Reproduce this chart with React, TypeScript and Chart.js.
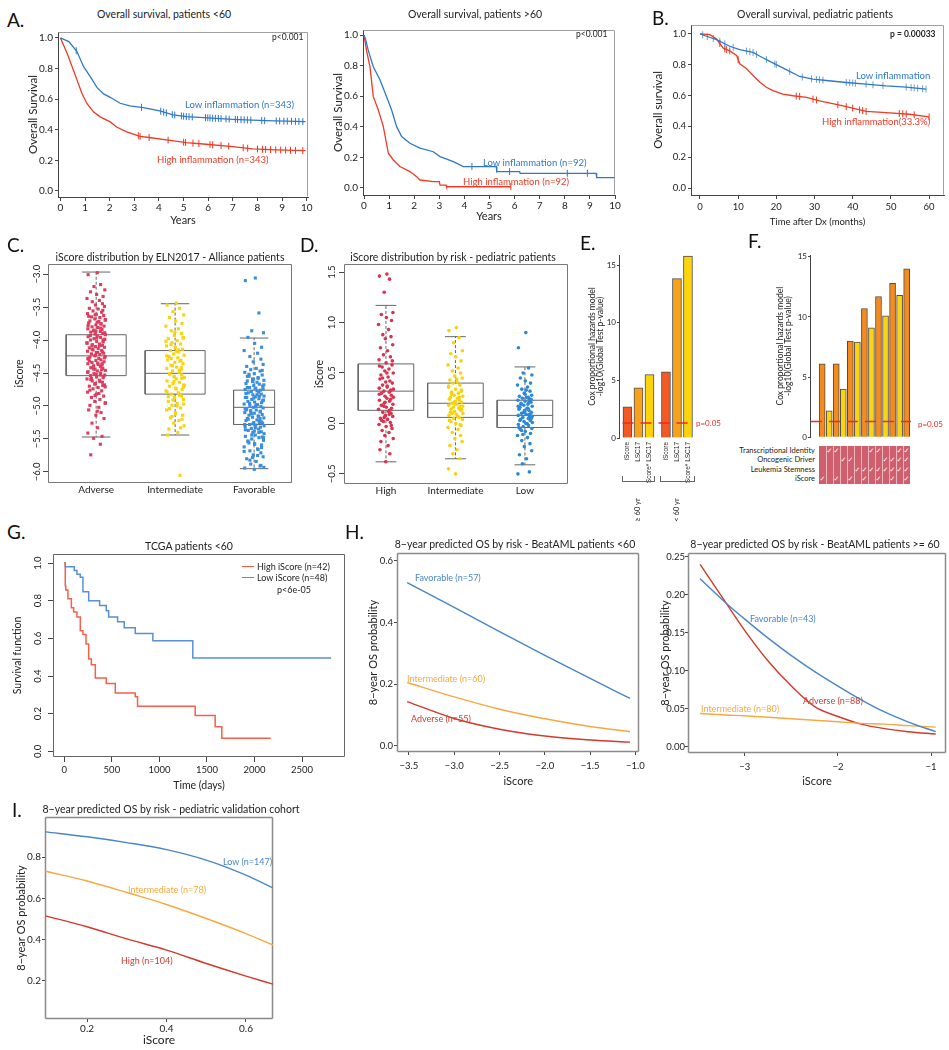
import React, { useEffect, useRef } from 'react';
import { Chart, registerables } from 'chart.js';

Chart.register(...registerables);
const FONT = "Lato, 'Open Sans', sans-serif";
Chart.defaults.font.family = FONT;
Chart.defaults.color = '#222';

// ---------------- DATA ----------------
// Panel A (left): patients <60
const A1_LOW_T = [0, 0.34, 0.67, 0.94, 1.21, 1.48, 1.75, 2.02, 2.42, 2.82, 3.36, 4.03, 4.57, 5.11, 5.64, 6.99, 8.33, 9.95];
const A1_LOW_S = [1.0, 0.976, 0.911, 0.812, 0.747, 0.677, 0.634, 0.612, 0.573, 0.556, 0.545, 0.523, 0.497, 0.486, 0.481, 0.468, 0.459, 0.453];
const A1_HIGH_T = [0, 0.27, 0.47, 0.67, 0.87, 1.07, 1.34, 1.61, 2.02, 2.28, 2.69, 3.23, 3.6, 4.3, 5.11, 5.91, 6.99, 7.8, 8.74, 9.95];
const A1_HIGH_S = [1.0, 0.9, 0.813, 0.726, 0.638, 0.572, 0.517, 0.484, 0.451, 0.418, 0.386, 0.357, 0.349, 0.333, 0.316, 0.305, 0.29, 0.275, 0.268, 0.263];
const A1_LOW_CENS = [0.64, 3.29, 4.07, 4.19, 4.3, 4.54, 4.64, 4.91, 5.0, 5.11, 5.22, 5.35, 5.89, 5.98, 6.07, 6.18, 6.29, 6.41, 6.52, 6.72, 6.85, 7.1, 7.19, 7.33, 7.46, 7.59, 7.73, 8.17, 8.29, 8.76, 8.9, 9.07, 9.21, 9.38, 9.54, 9.68, 9.84];
const A1_HIGH_CENS = [3.16, 3.23, 3.6, 4.37, 5.0, 5.08, 5.38, 5.62, 6.07, 6.18, 6.52, 6.83, 7.42, 7.6, 8.0, 8.2, 8.33, 8.53, 8.74, 8.94, 9.14, 9.34, 9.54, 9.84];
// Panel A (right): patients >60
const A2_LOW_T = [0, 0.05, 0.17, 0.37, 0.64, 0.9, 1.1, 1.3, 1.5, 1.83, 2.23, 2.76, 3.03, 3.56, 3.96, 5.27, 5.29, 6.2, 6.22, 9.25, 9.27, 9.98];
const A2_LOW_S = [1, 0.98, 0.9, 0.793, 0.706, 0.597, 0.51, 0.401, 0.336, 0.292, 0.26, 0.237, 0.205, 0.172, 0.14, 0.14, 0.107, 0.107, 0.096, 0.096, 0.067, 0.067];
const A2_HIGH_T = [0, 0.1, 0.24, 0.37, 0.57, 0.77, 0.97, 1.17, 1.43, 1.83, 2.1, 2.23, 2.76, 3.0, 3.03, 3.27, 3.29, 5.85];
const A2_HIGH_S = [1, 0.9, 0.79, 0.597, 0.51, 0.401, 0.227, 0.183, 0.14, 0.107, 0.074, 0.052, 0.041, 0.041, 0.019, 0.019, 0.008, 0.008];
const A2_LOW_CENS = [4.3, 5.28, 5.8, 8.1, 8.9];
const A2_HIGH_CENS = [5.85];
const YEAR_TICKS = [0, 1, 2, 3, 4, 5, 6, 7, 8, 9, 10];
const SURV_TICKS = [0, 0.2, 0.4, 0.6, 0.8, 1.0];
// Panel B: pediatric
const B_LOW_T = [0, 1.74, 4.35, 7.8, 10.4, 13.9, 15.7, 18.3, 20.9, 22.6, 26.1, 29.6, 33.1, 38.3, 43.5, 48.7, 54, 59.2];
const B_LOW_S = [1, 0.985, 0.963, 0.92, 0.898, 0.88, 0.855, 0.822, 0.79, 0.768, 0.724, 0.707, 0.698, 0.685, 0.674, 0.663, 0.655, 0.642];
const B_HIGH_T = [0, 2.6, 4.35, 6.1, 7.8, 9.6, 10.4, 12.2, 13.9, 15.7, 17.4, 19.1, 21.7, 24.4, 27.9, 31.3, 36.6, 40, 43.5, 48.7, 54.8, 60];
const B_HIGH_S = [1, 0.995, 0.967, 0.908, 0.89, 0.86, 0.806, 0.774, 0.73, 0.687, 0.654, 0.632, 0.61, 0.599, 0.588, 0.566, 0.538, 0.518, 0.497, 0.49, 0.479, 0.462];
const B_LOW_CENS = [0.7, 1.9, 3.5, 5.2, 6.5, 8.7, 12.2, 13.05, 13.9, 14.8, 17.4, 19.6, 20.0, 23.5, 26.8, 29.2, 30.5, 31.3, 32.2, 38.3, 39.2, 40, 40.7, 43.5, 45.3, 47.9, 54, 55.3, 56.1, 57, 58.3, 59.2];
const B_HIGH_CENS = [5.2, 6.5, 6.9, 7.8, 10, 25.2, 26.1, 29.6, 30.5, 36.1, 38.3, 40, 41.8, 42.6, 43.5, 52.2, 53.1, 54, 56.1, 60];
const MONTH_TICKS = [0, 10, 20, 30, 40, 50, 60];
// Panel C: iScore by ELN2017 (stats: low whisker, q1, median, q3, high whisker)
const C_CATS = ['Adverse', 'Intermediate', 'Favorable'];
const C_STATS = [
  [-5.47, -4.54, -4.24, -3.92, -2.97],
  [-5.44, -4.82, -4.505, -4.16, -3.45],
  [-5.95, -5.28, -5.02, -4.76, -3.97],
];
const C_TICKS = [-6, -5.5, -5, -4.5, -4, -3.5, -3];
const C_ADV = [-2.98, -3.01, -3.16, -3.19, -3.24, -3.27, -3.31, -3.34, -3.37, -3.4, -3.42, -3.45, -3.47, -3.49, -3.52, -3.53, -3.56, -3.58, -3.6, -3.61, -3.63, -3.65, -3.66, -3.68, -3.7, -3.71, -3.72, -3.74, -3.76, -3.77, -3.79, -3.8, -3.81, -3.83, -3.84, -3.86, -3.87, -3.88, -3.9, -3.91, -3.92, -3.94, -3.95, -3.96, -3.98, -3.99, -4.0, -4.02, -4.03, -4.04, -4.06, -4.07, -4.08, -4.1, -4.11, -4.12, -4.13, -4.15, -4.16, -4.17, -4.19, -4.2, -4.21, -4.22, -4.24, -4.25, -4.26, -4.28, -4.29, -4.3, -4.31, -4.33, -4.34, -4.35, -4.36, -4.38, -4.39, -4.4, -4.42, -4.43, -4.44, -4.46, -4.47, -4.48, -4.5, -4.51, -4.53, -4.54, -4.56, -4.57, -4.59, -4.61, -4.62, -4.64, -4.66, -4.68, -4.7, -4.72, -4.74, -4.77, -4.79, -4.82, -4.85, -4.87, -4.9, -4.93, -4.96, -4.99, -5.02, -5.06, -5.1, -5.14, -5.19, -5.26, -5.33, -5.41, -5.46, -5.49, -5.58, -5.74,
  -3.55, -3.62, -3.69, -3.73, -3.78, -3.82, -3.85, -3.89, -3.93, -3.97, -4.01, -4.05, -4.09, -4.14, -4.18, -4.23, -4.27, -4.32, -4.37, -4.41, -4.45, -4.49, -4.52, -4.55, -4.58, -4.63, -4.67, -4.71, -4.76, -4.81, -3.64, -3.75, -3.87, -3.99, -4.09, -4.19, -4.28, -4.36, -4.44, -4.53, -4.6, -4.69, -4.84, -4.95, -5.08];
const C_INT = [-3.44, -3.47, -3.52, -3.57, -3.62, -3.66, -3.71, -3.75, -3.79, -3.83, -3.86, -3.9, -3.93, -3.96, -3.98, -4.01, -4.04, -4.06, -4.09, -4.11, -4.14, -4.16, -4.18, -4.21, -4.23, -4.25, -4.27, -4.3, -4.32, -4.34, -4.36, -4.38, -4.41, -4.43, -4.45, -4.47, -4.49, -4.51, -4.53, -4.55, -4.57, -4.59, -4.62, -4.64, -4.66, -4.68, -4.7, -4.73, -4.75, -4.77, -4.8, -4.82, -4.85, -4.87, -4.9, -4.93, -4.96, -4.99, -5.03, -5.06, -5.1, -5.14, -5.18, -5.22, -5.26, -5.3, -5.35, -5.4, -5.44, -6.05,
  -3.88, -3.97, -4.07, -4.17, -4.24, -4.31, -4.39, -4.46, -4.52, -4.58, -4.63, -4.69, -4.74, -4.79, -4.84, -4.91, -4.97, -5.04, -5.12, -5.2, -4.02, -4.15, -4.28, -4.42, -4.56, -4.71, -4.86, -5.0, -5.16, -5.33];
const C_FAV = [-3.06, -3.1, -3.59, -3.86, -3.89, -3.96, -4.05, -4.11, -4.16, -4.2, -4.25, -4.29, -4.33, -4.37, -4.4, -4.43, -4.45, -4.47, -4.49, -4.51, -4.53, -4.55, -4.57, -4.59, -4.61, -4.62, -4.64, -4.66, -4.67, -4.69, -4.7, -4.72, -4.73, -4.75, -4.76, -4.78, -4.79, -4.8, -4.82, -4.83, -4.85, -4.86, -4.87, -4.89, -4.9, -4.91, -4.93, -4.94, -4.95, -4.97, -4.98, -4.99, -5.01, -5.02, -5.03, -5.05, -5.06, -5.07, -5.09, -5.1, -5.11, -5.13, -5.14, -5.15, -5.17, -5.18, -5.19, -5.21, -5.22, -5.23, -5.25, -5.26, -5.28, -5.29, -5.31, -5.32, -5.34, -5.35, -5.37, -5.39, -5.4, -5.42, -5.44, -5.46, -5.48, -5.5, -5.52, -5.54, -5.57, -5.59, -5.62, -5.65, -5.68, -5.71, -5.74, -5.77, -5.8, -5.84, -5.88, -5.91, -5.94, -5.96,
  -4.46, -4.52, -4.58, -4.63, -4.68, -4.72, -4.77, -4.81, -4.85, -4.88, -4.92, -4.96, -5.0, -5.04, -5.08, -5.12, -5.16, -5.2, -5.24, -5.27, -5.3, -5.33, -5.36, -5.4, -5.44, -5.48, -5.53, -5.58, -5.63, -5.69, -5.75, -5.82, -5.9, -4.6, -4.74, -4.87, -4.98, -5.09, -5.19, -5.28, -5.38, -5.47, -5.56, -5.66, -5.78, -5.93, -4.55, -4.83, -5.06, -5.25];
// Panel D: iScore by risk, pediatric
const D_CATS = ['High', 'Intermediate', 'Low'];
const D_STATS = [
  [-0.38, 0.13, 0.32, 0.59, 1.17],
  [-0.35, 0.06, 0.2, 0.4, 0.86],
  [-0.41, -0.04, 0.08, 0.23, 0.56],
];
const D_TICKS = [-0.5, 0, 0.5, 1.0, 1.5];
const D_HIGH = [1.48, 1.46, 1.43, 1.3, 1.1, 1.08, 1.05, 1.02, 0.98, 0.93, 0.88, 0.86, 0.84, 0.78, 0.75, 0.72, 0.68, 0.66, 0.63, 0.6, 0.58, 0.56, 0.54, 0.52, 0.5, 0.48, 0.46, 0.44, 0.42, 0.41, 0.4, 0.38, 0.36, 0.35, 0.33, 0.32, 0.31, 0.3, 0.28, 0.27, 0.26, 0.25, 0.23, 0.22, 0.2, 0.19, 0.18, 0.16, 0.15, 0.14, 0.12, 0.11, 0.1, 0.08, 0.07, 0.05, 0.04, 0.02, 0.01, -0.01, -0.03, -0.05, -0.07, -0.09, -0.12, -0.15, -0.18, -0.22, -0.26, -0.3, -0.38,
  0.62, 0.45, 0.37, 0.29, 0.24, 0.17, 0.09, 0.03, -0.02, 0.21, 0.34, 0.5, 0.57, 0.13, 0.06];
const D_INT = [0.95, 0.92, 0.85, 0.8, 0.72, 0.69, 0.66, 0.62, 0.58, 0.55, 0.52, 0.5, 0.47, 0.45, 0.43, 0.41, 0.4, 0.38, 0.36, 0.34, 0.32, 0.31, 0.3, 0.28, 0.27, 0.26, 0.25, 0.24, 0.23, 0.22, 0.21, 0.2, 0.19, 0.18, 0.17, 0.16, 0.15, 0.14, 0.13, 0.12, 0.1, 0.09, 0.08, 0.06, 0.05, 0.04, 0.02, 0.0, -0.02, -0.04, -0.06, -0.09, -0.12, -0.15, -0.18, -0.22, -0.26, -0.3, -0.35, -0.45, -0.5,
  0.33, 0.29, 0.25, 0.21, 0.17, 0.11, 0.07, 0.03, 0.26, 0.19, 0.14, 0.1, 0.44, 0.37, -0.01];
const D_LOW = [0.9, 0.75, 0.55, 0.5, 0.48, 0.45, 0.42, 0.4, 0.38, 0.36, 0.34, 0.32, 0.3, 0.28, 0.27, 0.26, 0.25, 0.24, 0.23, 0.22, 0.21, 0.2, 0.19, 0.18, 0.17, 0.16, 0.15, 0.14, 0.13, 0.12, 0.11, 0.1, 0.09, 0.08, 0.07, 0.06, 0.05, 0.04, 0.03, 0.02, 0.01, 0.0, -0.01, -0.02, -0.03, -0.05, -0.06, -0.08, -0.1, -0.12, -0.14, -0.17, -0.2, -0.23, -0.27, -0.31, -0.35, -0.4, -0.48, -0.5,
  0.29, 0.24, 0.19, 0.15, 0.11, 0.07, 0.03, 0.0, -0.04, 0.21, 0.13, 0.05, -0.07, 0.33, 0.17, 0.09, -0.11, 0.26];
// Panel E: Cox model -log10 p
const E_LABELS = ['iScore', 'LSC17', 'iScore* LSC17', 'iScore', 'LSC17', 'iScore* LSC17'];
const E_VALUES = [2.7, 4.35, 5.5, 5.75, 13.85, 15.8];
const E_COLORS = ['#f15a24', '#f7a21b', '#fdd40b', '#f15a24', '#f7a21b', '#fdd40b'];
const E_GROUPS = ['≥ 60 yr', '< 60 yr'];
const P05 = 1.301;
const EF_TICKS = [0, 5, 10, 15];
// Panel F
const F_VALUES = [6.1, 2.2, 6.1, 4.0, 8.0, 7.9, 10.7, 9.1, 11.7, 10.1, 12.8, 11.8, 14.0];
const F_COLORS = F_VALUES.map((_, i) => (i % 2 === 0 ? '#f48b1f' : '#fcd30c'));
const F_ROW_NAMES = ['Transcriptional Identity', 'Oncogenic Driver', 'Leukemia Stemness', 'iScore'];
const F_CHECKS = [
  [0, 1, 1, 0, 0, 0, 0, 1, 1, 0, 0, 1, 1],
  [0, 0, 0, 1, 1, 0, 0, 0, 0, 1, 1, 1, 1],
  [0, 0, 0, 0, 0, 1, 1, 1, 1, 1, 1, 1, 1],
  [1, 0, 1, 0, 1, 0, 1, 0, 1, 0, 1, 0, 1],
];
// Panel G: TCGA
const G_HIGH_T = [0, 10, 15, 38, 74, 98, 133, 168, 196, 228, 256, 284, 326, 441, 536, 746, 770, 1376, 1586, 1656, 2170];
const G_HIGH_S = [1, 0.88, 0.857, 0.81, 0.762, 0.74, 0.714, 0.64, 0.62, 0.57, 0.49, 0.46, 0.39, 0.36, 0.31, 0.29, 0.24, 0.19, 0.13, 0.07, 0.07];
const G_LOW_T = [0, 10, 105, 133, 168, 196, 256, 371, 441, 466, 560, 630, 746, 931, 1351, 2805];
const G_LOW_S = [1, 0.98, 0.96, 0.94, 0.924, 0.847, 0.8, 0.775, 0.746, 0.714, 0.688, 0.656, 0.626, 0.587, 0.496, 0.496];
const DAY_TICKS = [0, 500, 1000, 1500, 2000, 2500];
// Panel H: BeatAML predicted OS
const H1_X = [-3.52, -3.0, -2.5, -2.0, -1.5, -1.06];
const H1_FAV = [0.53, 0.449, 0.37, 0.293, 0.218, 0.153];
const H1_INT = [0.205, 0.158, 0.118, 0.087, 0.062, 0.045];
const H1_ADV = [0.143, 0.088, 0.053, 0.031, 0.018, 0.011];
const H1_XTICKS = [-3.5, -3.0, -2.5, -2.0, -1.5, -1.0];
const H1_YTICKS = [0, 0.2, 0.4, 0.6];
const H2_X = [-3.48, -3.2, -3.0, -2.75, -2.5, -2.25, -2.0, -1.75, -1.5, -1.25, -0.95];
const H2_ADV = [0.24, 0.189, 0.153, 0.113, 0.08, 0.053, 0.04, 0.03, 0.024, 0.02, 0.017];
const H2_FAV = [0.221, 0.189, 0.168, 0.143, 0.12, 0.099, 0.08, 0.062, 0.046, 0.033, 0.02];
const H2_INT = [0.044, 0.042, 0.041, 0.039, 0.037, 0.035, 0.033, 0.031, 0.03, 0.028, 0.026];
const H2_XTICKS = [-3, -2, -1];
const H2_YTICKS = [0, 0.05, 0.1, 0.15, 0.2, 0.25];
// Panel I: pediatric validation
const I_X = [0.095, 0.2, 0.3, 0.4, 0.5, 0.6, 0.668];
const I_LOW = [0.922, 0.898, 0.87, 0.836, 0.785, 0.712, 0.65];
const I_INT = [0.731, 0.684, 0.628, 0.57, 0.502, 0.429, 0.373];
const I_HIGH = [0.515, 0.462, 0.403, 0.349, 0.284, 0.223, 0.184];
const I_XTICKS = [0.2, 0.4, 0.6];
const I_YTICKS = [0.2, 0.4, 0.6, 0.8];

// jitter offsets for strip points (presentation only)
const JIT = [0.12, -0.85, 0.47, -0.23, 0.91, -0.6, 0.05, 0.73, -0.97, 0.34, -0.41, 0.66, -0.08, 0.88, -0.72, 0.21, -0.33, 0.58, -0.91, 0.02, 0.79, -0.5, 0.39, -0.15, 0.95, -0.66, 0.28, -0.79, 0.51, -0.03, 0.83, -0.44, 0.16, -0.88, 0.62, -0.27, 0.44, -0.57, 0.7, -0.12, 0.97];

// ---------------- COLORS ----------------
const A_BLUE = '#2f78c8', A_RED = '#ef3a25';
const G_RED = '#f4604a', G_BLUE = '#5b8fd5';
const H_BLUE = '#4a85c9', H_ORANGE = '#f8a840', H_RED = '#d23a2c';

// ---------------- HELPERS ----------------
Chart.register({
  id: 'frame',
  defaults: { sides: '', color: '#888', width: 1 },
  beforeDatasetsDraw(chart: any, _a: any, o: any) {
    const sides = (o && o.sides) || '';
    if (!sides) return;
    const { ctx, chartArea } = chart;
    const l = Math.round(chartArea.left) + 0.5, r = Math.round(chartArea.right) - 0.5;
    const t = Math.round(chartArea.top) + 0.5, b = Math.round(chartArea.bottom) - 0.5;
    ctx.save();
    ctx.strokeStyle = o.color; ctx.lineWidth = o.width;
    ctx.beginPath();
    if (sides.includes('t')) { ctx.moveTo(l, t); ctx.lineTo(r, t); }
    if (sides.includes('r')) { ctx.moveTo(r, t); ctx.lineTo(r, b); }
    if (sides.includes('b')) { ctx.moveTo(l, b); ctx.lineTo(r, b); }
    if (sides.includes('l')) { ctx.moveTo(l, t); ctx.lineTo(l, b); }
    ctx.stroke(); ctx.restore();
  },
} as any);

const f1 = (v: number) => (v < 0 ? '−' : '') + Math.abs(v).toFixed(1);
const f2 = (v: number) => Math.abs(v).toFixed(2);
const f0 = (v: number) => (v < 0 ? '−' : '') + String(Math.abs(v));

function interp(xs: number[], ys: number[], t: number) {
  if (t <= xs[0]) return ys[0];
  for (let i = 1; i < xs.length; i++) {
    if (t <= xs[i]) return ys[i - 1] + ((ys[i] - ys[i - 1]) * (t - xs[i - 1])) / (xs[i] - xs[i - 1]);
  }
  return ys[ys.length - 1];
}

function ax(o: any) {
  const tl = o.tickLen ?? 4;
  return {
    type: 'linear', min: o.min, max: o.max, display: o.display ?? true, offset: false,
    afterBuildTicks: (s: any) => { s.ticks = o.ticks.map((v: number) => ({ value: v })); },
    afterFit: (s: any) => { if (s.isHorizontal()) s.height = o.size; else s.width = o.size; },
    ticks: {
      autoSkip: false, padding: o.pad ?? 2, font: { size: o.font ?? 10, family: o.family || FONT }, color: '#222',
      minRotation: o.rot ?? 0, maxRotation: o.rot ?? 0, crossAlign: o.cross || 'near',
      callback: (v: number, i: number) => (o.labels ? o.labels[i] : o.fmt ? o.fmt(v) : String(v)),
    },
    grid: { display: true, drawOnChartArea: false, drawTicks: tl > 0, tickLength: tl, color: '#444', lineWidth: 1, offset: false },
    border: { display: o.border ?? true, color: '#444', width: 1 },
    title: o.title
      ? { display: true, text: o.title, color: '#222', padding: 0, font: { size: o.titleFont ?? 11, lineHeight: o.titleLH ?? 1.2, family: FONT } }
      : { display: false },
  };
}

function opts(pad: any, x: any, y: any, frame?: any) {
  return {
    responsive: false, animation: false, devicePixelRatio: 1, events: [],
    layout: { padding: { left: 0, top: pad.T, right: pad.R, bottom: pad.Bl ?? 0 } },
    plugins: { legend: { display: false }, tooltip: { enabled: false }, frame: frame || { sides: '' } },
    scales: { x, y },
  };
}

const curve = (xs: number[], ys: number[], color: string, width = 1.3, extra: any = {}) => ({
  type: 'scatter', data: xs.map((x, i) => ({ x, y: ys[i] })), showLine: true, borderColor: color,
  backgroundColor: color, borderWidth: width, pointRadius: 0, ...extra,
});
const censor = (ts: number[], xs: number[], ys: number[], color: string) => ({
  type: 'scatter', data: ts.map((t) => ({ x: t, y: interp(xs, ys, t) })), showLine: false,
  pointStyle: 'line', rotation: 90, pointRadius: 3.5, borderColor: color, borderWidth: 1, backgroundColor: color,
});

function boxDatasets(stats: number[][], halfW: number[], cap: number, color: string) {
  const solid: any[] = [], dashed: any[] = [];
  stats.forEach((s, i) => {
    const p = i + 1, w = halfW[i];
    const [lo, q1, md, q3, hi] = s;
    solid.push({ x: p - w, y: q1 }, { x: p + w, y: q1 }, { x: p + w, y: q3 }, { x: p - w, y: q3 }, { x: p - w, y: q1 }, { x: p, y: null });
    solid.push({ x: p - w, y: md }, { x: p + w, y: md }, { x: p, y: null });
    solid.push({ x: p - cap, y: hi }, { x: p + cap, y: hi }, { x: p, y: null });
    solid.push({ x: p - cap, y: lo }, { x: p + cap, y: lo }, { x: p, y: null });
    dashed.push({ x: p, y: q3 }, { x: p, y: hi }, { x: p, y: null }, { x: p, y: q1 }, { x: p, y: lo }, { x: p, y: null });
  });
  return [
    { type: 'scatter', data: solid, showLine: true, borderColor: color, borderWidth: 1, pointRadius: 0, spanGaps: false, order: 5 },
    { type: 'scatter', data: dashed, showLine: true, borderColor: color, borderWidth: 1, borderDash: [3, 2], pointRadius: 0, spanGaps: false, order: 5 },
  ];
}
const strip = (vals: number[], pos: number, spread: number, color: string, style: string, r: number) => ({
  type: 'scatter', data: vals.map((v, k) => ({ x: pos + JIT[k % JIT.length] * spread, y: v })),
  pointStyle: style, pointRadius: r, pointBorderWidth: 0, borderWidth: 0, backgroundColor: color, order: 1,
});

// ---------------- PANELS ----------------
type P = { l: number; t: number; r: number; b: number };
type Pad = { L: number; T: number; R: number; B: number; Bl?: number };
function place(p: P, pad: Pad) {
  return { x: p.l - pad.L, y: p.t - pad.T, w: p.r - p.l + pad.L + pad.R, h: p.b - p.t + pad.T + pad.B };
}

const panels: { p: P; pad: Pad; make: (pad: Pad) => any }[] = [
  // A left
  {
    p: { l: 58, t: 32, r: 308, b: 197 }, pad: { L: 32, T: 10, R: 10, B: 30 },
    make: (pad) => ({
      type: 'scatter',
      data: { datasets: [
        curve(A1_LOW_T, A1_LOW_S, A_BLUE), curve(A1_HIGH_T, A1_HIGH_S, A_RED),
        censor(A1_LOW_CENS, A1_LOW_T, A1_LOW_S, A_BLUE), censor(A1_HIGH_CENS, A1_HIGH_T, A1_HIGH_S, A_RED),
      ] },
      options: opts(pad,
        ax({ min: -0.1, max: 10.05, ticks: YEAR_TICKS, size: pad.B, font: 10, tickLen: 4, pad: 1, title: 'Years', titleFont: 11 }),
        ax({ min: -0.04, max: 1.039, ticks: SURV_TICKS, fmt: f1, size: pad.L, font: 10, tickLen: 3, pad: 2, title: 'Overall Survival', titleFont: 11.5 }),
        { sides: 'tr', color: '#a0a0a0', width: 1 }),
    }),
  },
  // A right
  {
    p: { l: 363, t: 30, r: 615, b: 195 }, pad: { L: 32, T: 10, R: 10, B: 28 },
    make: (pad) => ({
      type: 'scatter',
      data: { datasets: [
        curve(A2_LOW_T, A2_LOW_S, A_BLUE), curve(A2_HIGH_T, A2_HIGH_S, A_RED),
        censor(A2_LOW_CENS, A2_LOW_T, A2_LOW_S, A_BLUE), censor(A2_HIGH_CENS, A2_HIGH_T, A2_HIGH_S, A_RED),
      ] },
      options: opts(pad,
        ax({ min: -0.04, max: 10.0, ticks: YEAR_TICKS, size: pad.B, font: 10, tickLen: 4, pad: 1, title: 'Years', titleFont: 11 }),
        ax({ min: -0.046, max: 1.033, ticks: SURV_TICKS, fmt: f1, size: pad.L, font: 10, tickLen: 3, pad: 2, title: 'Overall Survival', titleFont: 11.5 }),
        { sides: 'tr', color: '#a0a0a0', width: 1 }),
    }),
  },
  // B
  {
    p: { l: 691, t: 25, r: 945, b: 195 }, pad: { L: 40, T: 10, R: 4, B: 33 },
    make: (pad) => ({
      type: 'scatter',
      data: { datasets: [
        curve(B_LOW_T, B_LOW_S, A_BLUE), curve(B_HIGH_T, B_HIGH_S, A_RED),
        censor(B_LOW_CENS, B_LOW_T, B_LOW_S, '#6fa0dc'), censor(B_HIGH_CENS, B_HIGH_T, B_HIGH_S, A_RED),
      ] },
      options: opts(pad,
        ax({ min: -2.35, max: 63.9, ticks: MONTH_TICKS, size: pad.B, font: 9.5, tickLen: 4, pad: 2, title: 'Time after Dx (months)', titleFont: 9.5 }),
        ax({ min: -0.045, max: 1.058, ticks: SURV_TICKS, fmt: f1, size: pad.L, font: 9.5, tickLen: 3, pad: 2, title: 'Overall survival', titleFont: 11.5 }),
        { sides: 'tr', color: '#a0a0a0', width: 1 }),
    }),
  },
  // C
  {
    p: { l: 48, t: 264, r: 292, b: 483 }, pad: { L: 35, T: 10, R: 10, B: 16 },
    make: (pad) => ({
      type: 'scatter',
      data: { datasets: [
        strip(C_ADV, 1, 0.12, '#dd3d5e', 'rect', 2.2),
        strip(C_INT, 2, 0.12, '#f8d40c', 'rect', 2.2),
        strip(C_FAV, 3, 0.13, '#3a8edb', 'rect', 2.2),
        ...boxDatasets(C_STATS, [0.38, 0.38, 0.26], 0.18, '#666'),
      ] },
      options: opts(pad,
        ax({ min: 0.39, max: 3.48, ticks: [1, 2, 3], labels: C_CATS, size: pad.B, font: 10, tickLen: 0, pad: 1, border: false }),
        ax({ min: -6.167, max: -2.848, ticks: C_TICKS, fmt: f1, size: pad.L, font: 9.5, tickLen: 5, pad: -3, rot: 90, cross: 'center', border: false, title: 'iScore', titleFont: 10.5 }),
        { sides: 'trbl', color: '#777', width: 1 }),
    }),
  },
  // D
  {
    p: { l: 344, t: 264, r: 568, b: 484 }, pad: { L: 31, T: 10, R: 10, B: 16 },
    make: (pad) => ({
      type: 'scatter',
      data: { datasets: [
        strip(D_HIGH, 1, 0.11, '#d8334f', 'circle', 1.8),
        strip(D_INT, 2, 0.11, '#f7d30a', 'circle', 1.8),
        strip(D_LOW, 3, 0.11, '#2c88d8', 'circle', 1.8),
        ...boxDatasets(D_STATS, [0.4, 0.4, 0.4], 0.15, '#666'),
      ] },
      options: opts(pad,
        ax({ min: 0.396, max: 3.62, ticks: [1, 2, 3], labels: D_CATS, size: pad.B, font: 10, tickLen: 0, pad: 1, border: false }),
        ax({ min: -0.6, max: 1.58, ticks: D_TICKS, fmt: f1, size: pad.L, font: 9.5, tickLen: 5, pad: -2, rot: 90, cross: 'center', border: false, title: 'iScore', titleFont: 10.5 }),
        { sides: 'trbl', color: '#777', width: 1 }),
    }),
  },
  // E
  {
    p: { l: 619, t: 255, r: 695, b: 438 }, pad: { L: 31, T: 10, R: 10, B: 45 },
    make: (pad) => ({
      type: 'bar',
      data: { datasets: [
        { type: 'line', data: [{ x: -0.45, y: P05 }, { x: 5.95, y: P05 }], borderColor: '#ec2a24', borderWidth: 1.6, borderDash: [11, 7], pointRadius: 0, order: 0 },
        { type: 'bar', data: E_VALUES.map((v, i) => ({ x: [0, 1, 2, 3.5, 4.5, 5.5][i], y: v })), backgroundColor: E_COLORS, borderColor: '#4d4d4d', borderWidth: 1, barThickness: 9, order: 1 },
      ] },
      options: opts(pad,
        ax({ min: -0.77, max: 6.14, ticks: [0, 1, 2, 3.5, 4.5, 5.5], labels: E_LABELS, size: pad.B, font: 6.5, family: "'Liberation Sans Narrow', 'Liberation Sans', sans-serif", tickLen: 0, pad: 4, rot: 90, border: false }),
        ax({ min: 0, max: 15.9, ticks: EF_TICKS, size: pad.L, font: 8, tickLen: 2, pad: 1, title: ['Cox proportional hazards model', '-log10(Global Test p-value)'], titleFont: 8.5, titleLH: 1.0 })),
    }),
  },
  // F
  {
    p: { l: 810, t: 255, r: 912, b: 439 }, pad: { L: 34, T: 10, R: 10, B: 4, Bl: 4 },
    make: (pad) => ({
      type: 'bar',
      data: { datasets: [
        { type: 'line', data: [{ x: -1.6, y: P05 }, { x: 12.6, y: P05 }], borderColor: '#ec2a24', borderWidth: 1.6, borderDash: [11, 7], pointRadius: 0, order: 0 },
        { type: 'bar', data: F_VALUES.map((v, i) => ({ x: i, y: v })), backgroundColor: F_COLORS, borderColor: '#4d4d4d', borderWidth: 1, barThickness: 6, order: 1 },
      ] },
      options: opts(pad,
        ax({ min: -1.73, max: 12.76, ticks: [], size: 0, display: false }),
        ax({ min: 0, max: 15.15, ticks: EF_TICKS, size: pad.L, font: 8, tickLen: 2, pad: 1, title: ['Cox proportional hazards model', '-log10(Global Test p-value)'], titleFont: 8.5, titleLH: 1.0 })),
    }),
  },
  // G
  {
    p: { l: 53, t: 554, r: 345, b: 757 }, pad: { L: 42, T: 10, R: 10, B: 35 },
    make: (pad) => ({
      type: 'scatter',
      data: { datasets: [
        curve(G_HIGH_T, G_HIGH_S, G_RED, 1.5, { stepped: 'before' }),
        curve(G_LOW_T, G_LOW_S, G_BLUE, 1.5, { stepped: 'before' }),
      ] },
      options: opts(pad,
        ax({ min: -119, max: 2951, ticks: DAY_TICKS, size: pad.B, font: 9.5, tickLen: 5, pad: 2, border: false, title: 'Time (days)', titleFont: 10.5 }),
        ax({ min: -0.03, max: 1.048, ticks: SURV_TICKS, fmt: f1, size: pad.L, font: 9.5, tickLen: 5, pad: 3.5, rot: 90, cross: 'center', border: false, title: 'Survival function', titleFont: 10.5 }),
        { sides: 'trbl', color: '#666', width: 1 }),
    }),
  },
  // H left
  {
    p: { l: 397, t: 553, r: 640, b: 752 }, pad: { L: 30, T: 10, R: 10, B: 36 },
    make: (pad) => ({
      type: 'scatter',
      data: { datasets: [
        curve(H1_X, H1_FAV, H_BLUE, 1.4, { cubicInterpolationMode: 'monotone' }),
        curve(H1_X, H1_INT, H_ORANGE, 1.4, { cubicInterpolationMode: 'monotone' }),
        curve(H1_X, H1_ADV, H_RED, 1.4, { cubicInterpolationMode: 'monotone' }),
      ] },
      options: opts(pad,
        ax({ min: -3.632, max: -0.956, ticks: H1_XTICKS, fmt: f1, size: pad.B, font: 9.5, tickLen: 3, pad: 5, border: false, title: 'iScore', titleFont: 11 }),
        ax({ min: -0.021, max: 0.626, ticks: H1_YTICKS, fmt: f1, size: pad.L, font: 9.5, tickLen: 3, pad: 1, border: false, title: '8−year OS probability', titleFont: 11 }),
        { sides: 'trbl', color: '#8a8a8a', width: 1.5 }),
    }),
  },
  // H right
  {
    p: { l: 688, t: 553, r: 946, b: 753 }, pad: { L: 29, T: 10, R: 3, B: 35 },
    make: (pad) => ({
      type: 'scatter',
      data: { datasets: [
        curve(H2_X, H2_FAV, H_BLUE, 1.4, { cubicInterpolationMode: 'monotone' }),
        curve(H2_X, H2_INT, H_ORANGE, 1.4, { cubicInterpolationMode: 'monotone' }),
        curve(H2_X, H2_ADV, H_RED, 1.4, { cubicInterpolationMode: 'monotone' }),
      ] },
      options: opts(pad,
        ax({ min: -3.61, max: -0.84, ticks: H2_XTICKS, fmt: f0, size: pad.B, font: 9.5, tickLen: 3, pad: 5, border: false, title: 'iScore', titleFont: 11 }),
        ax({ min: -0.008, max: 0.255, ticks: H2_YTICKS, fmt: f2, size: pad.L, font: 9.5, tickLen: 3, pad: 0, border: false, title: '8−year OS probability', titleFont: 11 }),
        { sides: 'trbl', color: '#8a8a8a', width: 1.5 }),
    }),
  },
  // I
  {
    p: { l: 45, t: 817, r: 273, b: 1019 }, pad: { L: 30, T: 10, R: 10, B: 28 },
    make: (pad) => ({
      type: 'scatter',
      data: { datasets: [
        curve(I_X, I_LOW, H_BLUE, 1.4, { cubicInterpolationMode: 'monotone' }),
        curve(I_X, I_INT, H_ORANGE, 1.4, { cubicInterpolationMode: 'monotone' }),
        curve(I_X, I_HIGH, H_RED, 1.4, { cubicInterpolationMode: 'monotone' }),
      ] },
      options: opts(pad,
        ax({ min: 0.094, max: 0.668, ticks: I_XTICKS, fmt: f1, size: pad.B, font: 10, tickLen: 3, pad: 1, border: false, title: 'iScore', titleFont: 12 }),
        ax({ min: 0.015, max: 0.994, ticks: I_YTICKS, fmt: f1, size: pad.L, font: 10, tickLen: 3, pad: 1, border: false, title: '8−year OS probability', titleFont: 11 }),
        { sides: 'trbl', color: '#8a8a8a', width: 1.5 }),
    }),
  },
];

// ---------------- TEXT ----------------
// [text, x, y, size, color, anchor, rotation, weight]
const TEXTS: any[] = [
  ['A.', 7, 19, 19, '#111', 'start'], ['B.', 652, 17, 19, '#111', 'start'], ['C.', 7, 244, 19, '#111', 'start'],
  ['D.', 300, 244, 19, '#111', 'start'], ['E.', 580, 242, 19, '#111', 'start'], ['F.', 748, 240, 19, '#111', 'start'],
  ['G.', 7, 531, 19, '#111', 'start'], ['H.', 345, 531, 19, '#111', 'start'], ['I.', 12, 809, 19, '#111', 'start'],
  ['Overall survival, patients <60', 164, 14, 10.5, '#222', 'middle'],
  ['Overall survival, patients >60', 475, 14, 10.5, '#222', 'middle'],
  ['Overall survival, pediatric patients', 815, 14, 10.5, '#222', 'middle'],
  ['iScore distribution by ELN2017 - Alliance patients', 170, 257, 10.5, '#222', 'middle'],
  ['iScore distribution by risk - pediatric patients', 453, 257, 10.5, '#222', 'middle'],
  ['TCGA patients <60', 189, 546, 10.5, '#222', 'middle'],
  ['8−year predicted OS by risk - BeatAML patients <60', 515, 544, 10.5, '#222', 'middle'],
  ['8−year predicted OS by risk - BeatAML patients >= 60', 815, 544, 10.5, '#222', 'middle'],
  ['8−year predicted OS by risk - pediatric validation cohort', 171, 809, 10.5, '#222', 'middle'],
  ['Low inflammation (n=343)', 185, 105, 9.5, A_BLUE, 'start'],
  ['High inflammation (n=343)', 157, 160, 9.5, A_RED, 'start'],
  ['p<0.001', 272, 37, 8.5, '#222', 'start'],
  ['Low inflammation (n=92)', 483, 163, 9.5, A_BLUE, 'start'],
  ['High inflammation (n=92)', 463, 182, 9.5, A_RED, 'start'],
  ['p<0.001', 576, 34, 8.5, '#222', 'start'],
  ['Low inflammation', 856, 76, 9.5, A_BLUE, 'start'],
  ['High inflammation(33.3%)', 822, 122, 9.5, A_RED, 'start'],
  ['p = 0.00033', 890, 34, 8.5, '#222', 'start', 0, 700],
  ['p=0.05', 696, 423, 8, '#ec2a24', 'start'],
  ['p=0.05', 918, 424, 8, '#ec2a24', 'start'],
  [E_GROUPS[0], 638, 510, 7.5, '#222', 'middle', -90],
  [E_GROUPS[1], 677, 510, 7.5, '#222', 'middle', -90],
  ['High iScore (n=42)', 257, 566, 9, '#222', 'start'],
  ['Low iScore (n=48)', 257, 577, 9, '#222', 'start'],
  ['p<6e-05', 277, 589, 9, '#222', 'start'],
  ['Favorable (n=57)', 415, 577, 9, H_BLUE, 'start'],
  ['Intermediate (n=60)', 407, 678, 9, H_ORANGE, 'start'],
  ['Adverse (n=55)', 411, 718, 9, H_RED, 'start'],
  ['Favorable (n=43)', 750, 618, 9, H_BLUE, 'start'],
  ['Adverse (n=88)', 803, 700, 9, H_RED, 'start'],
  ['Intermediate (n=80)', 701, 708, 9, H_ORANGE, 'start'],
  ['Low (n=147)', 223, 861, 9, H_BLUE, 'start'],
  ['Intermediate (n=78)', 128, 889, 9, H_ORANGE, 'start'],
  ['High (n=104)', 121, 960, 9, H_RED, 'start'],
];

function Txt({ d }: any) {
  const [t, x, y, s, c, a, r, w] = d;
  const tx = a === 'middle' ? '-50%' : a === 'end' ? '-100%' : '0';
  return (
    <div style={{ position: 'absolute', left: x, top: y, transform: `translate(${tx},-50%)${r ? ` rotate(${r}deg)` : ''}`, fontSize: s, color: c, fontWeight: w || 400, fontFamily: FONT, whiteSpace: 'nowrap', lineHeight: 1 }}>{t}</div>
  );
}

function ChartBox({ p, pad, make }: any) {
  const ref = useRef<HTMLCanvasElement>(null);
  const b = place(p, pad);
  useEffect(() => {
    const c = new Chart(ref.current as any, make(pad));
    return () => c.destroy();
  }, []);
  return <canvas ref={ref} width={b.w} height={b.h} style={{ position: 'absolute', left: b.x, top: b.y, width: b.w, height: b.h }} />;
}

function FTable() {
  const left = 819, top = 446, cw = 7, rh = 9.5;
  return (
    <>
      <div style={{ position: 'absolute', left, top, width: cw * 13, height: rh * 4, background: '#cf5f6d' }} />
      {F_VALUES.map((_, j) => j > 0 ? (
        <div key={'s' + j} style={{ position: 'absolute', left: left + j * cw, top, width: 0, height: rh * 4, borderLeft: '1px solid rgba(255,255,255,0.55)' }} />
      ) : null)}
      {F_CHECKS.map((row, i) => row.map((v, j) => v ? (
        <div key={i + '-' + j} style={{ position: 'absolute', left: left + j * cw + cw / 2, top: top + i * rh + rh / 2, transform: 'translate(-50%,-50%)', color: '#fff', fontSize: 7, lineHeight: 1, fontFamily: "'DejaVu Sans', sans-serif" }}>✓</div>
      ) : null))}
      {F_ROW_NAMES.map((n, i) => (
        <div key={n} style={{ position: 'absolute', left: 815, top: top + i * rh + rh / 2, transform: 'translate(-100%,-50%)', fontSize: 7.5, lineHeight: 1, fontFamily: FONT, color: '#222', whiteSpace: 'nowrap' }}>{n}</div>
      ))}
    </>
  );
}

function Decor() {
  return (
    <>
      <div style={{ position: 'absolute', left: 622, top: 476, width: 31, height: 5, border: '1px solid #666', borderTop: 'none' }} />
      <div style={{ position: 'absolute', left: 660, top: 476, width: 33, height: 5, border: '1px solid #666', borderTop: 'none' }} />
      <div style={{ position: 'absolute', left: 242, top: 566, width: 12, height: 0, borderTop: `1.5px solid ${G_RED}` }} />
      <div style={{ position: 'absolute', left: 242, top: 577, width: 12, height: 0, borderTop: `1.5px solid ${G_BLUE}` }} />
    </>
  );
}

export default function App() {
  return (
    <div style={{ position: 'absolute', left: 0, top: 0, width: 949, height: 1050, overflow: 'hidden', background: '#fff', fontFamily: FONT }}>
      {panels.map((pn, i) => <ChartBox key={i} p={pn.p} pad={pn.pad} make={pn.make} />)}
      <FTable />
      <Decor />
      {TEXTS.map((d, i) => <Txt key={i} d={d} />)}
    </div>
  );
}
